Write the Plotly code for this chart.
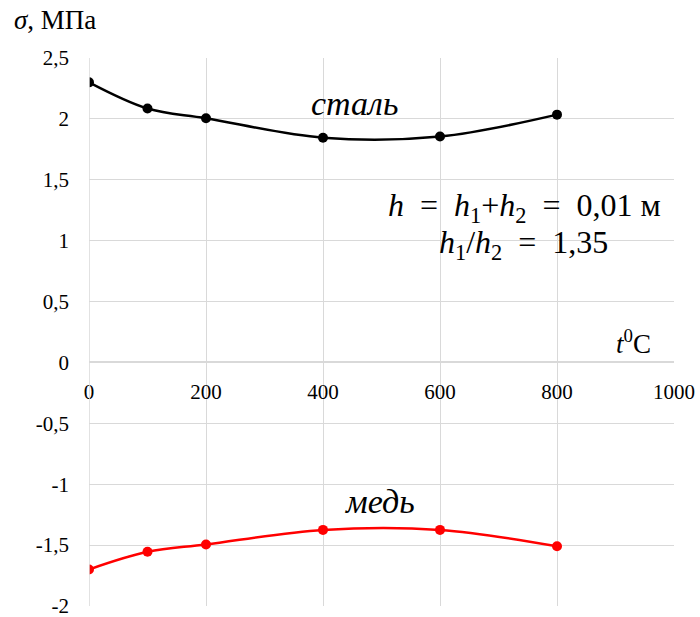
import plotly.graph_objects as go

temps = [0, 100, 200, 400, 600, 800]
steel = [2.30, 2.085, 2.005, 1.845, 1.855, 2.035]
copper = [-1.70, -1.555, -1.495, -1.375, -1.375, -1.51]

x_ticks = [0, 200, 400, 600, 800, 1000]
x_labels = ["0", "200", "400", "600", "800", "1000"]
y_ticks = [2.5, 2, 1.5, 1, 0.5, 0, -0.5, -1, -1.5, -2]
y_labels = ["2,5", "2", "1,5", "1", "0,5", "0", "-0,5", "-1", "-1,5", "-2"]

FONT = "Liberation Serif"
GRID = "#d9d9d9"
NB = "\u00a0"

fig = go.Figure()
fig.add_trace(go.Scatter(x=temps, y=steel, mode="lines+markers",
                         line=dict(color="black", width=2.5, shape="spline", smoothing=1),
                         marker=dict(color="black", size=10), showlegend=False))
fig.add_trace(go.Scatter(x=temps, y=copper, mode="lines+markers",
                         line=dict(color="#ff0000", width=2.5, shape="spline", smoothing=1),
                         marker=dict(color="#ff0000", size=10), showlegend=False))

fig.update_layout(
    width=700, height=617,
    margin=dict(l=89, r=26, t=58, b=11, autoexpand=False),
    paper_bgcolor="white", plot_bgcolor="white",
    font=dict(family=FONT, color="black"),
    xaxis=dict(range=[0, 1000], tickvals=x_ticks, ticktext=x_labels,
               showgrid=True, gridcolor=GRID, gridwidth=1.3,
               zeroline=False, showline=False, automargin=False,
               anchor="free", position=2/4.5, ticks="",
               ticklabelstandoff=15, ticklabeloverflow="allow",
               tickfont=dict(family=FONT, size=21, color="black")),
    yaxis=dict(range=[-2, 2.5], tickvals=y_ticks, ticktext=y_labels,
               showgrid=True, gridcolor=GRID, gridwidth=1.3,
               zeroline=True, zerolinecolor=GRID, zerolinewidth=1.5,
               showline=False, ticks="", ticklabelstandoff=19, automargin=False,
               ticklabeloverflow="allow",
               tickfont=dict(family=FONT, size=21, color="black")),
)
fig.add_vline(x=0, line=dict(color=GRID, width=1.5))

anns = [
    dict(text="<i>σ</i>, МПа", xref="paper", yref="paper", x=-0.132, y=1.069,
         xanchor="left", yanchor="middle", font=dict(size=27)),
    dict(text="<i>сталь</i>", x=453, y=2.13, xanchor="center", yanchor="middle",
         font=dict(size=34)),
    dict(text="<i>медь</i>", x=497, y=-1.14, xanchor="center", yanchor="middle",
         font=dict(size=34)),
    dict(text=f"<i>h</i>{NB}{NB}={NB}{NB}<i>h</i><sub>1</sub>+<i>h</i><sub>2</sub>{NB}{NB}={NB}{NB}0,01{NB}м",
         x=981, y=1.27, xanchor="right", yanchor="middle", font=dict(size=32)),
    dict(text=f"<i>h</i><sub>1</sub>/<i>h</i><sub>2</sub>{NB}{NB}={NB}{NB}1,35", x=742, y=0.97,
         xanchor="center", yanchor="middle", font=dict(size=32)),
    dict(text="<i>t</i><sup>0</sup>C", x=930, y=0.17,
         xanchor="center", yanchor="middle", font=dict(size=27)),
]
for a in anns:
    a.setdefault("xref", "x")
    a.setdefault("yref", "y")
    a["showarrow"] = False
    a["font"]["family"] = FONT
    a["font"]["color"] = "black"
    fig.add_annotation(**a)

fig.write_html("out.html", config={"displayModeBar": False},
               post_script="document.body.style.margin='0px';")
